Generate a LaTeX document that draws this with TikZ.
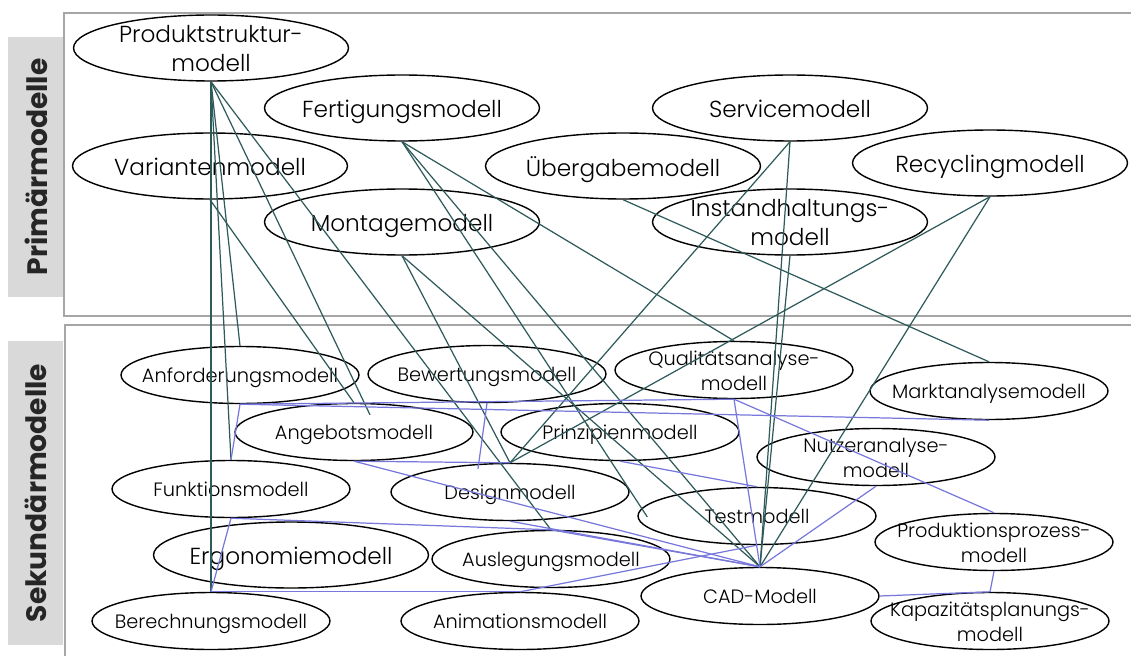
\documentclass[tikz,border=0pt]{standalone}
\usepackage{fontspec}
\IfFontExistsTF{Poppins Light}
  {\setmainfont{Poppins Light}[BoldFont={Poppins Bold}]}
  {\setmainfont{Poppins}}
\usepackage{xcolor}
\usepackage{tikz}
\usetikzlibrary{shapes,positioning,calc}

\definecolor{framegray}{HTML}{A6A6A6}
\definecolor{tagfill}{HTML}{D9D9D9}
\definecolor{primline}{HTML}{2F5A5A}
\definecolor{sekline}{HTML}{7878DC}

\newcommand{\primfont}{\fontsize{13.2}{17}\selectfont}
\newcommand{\sekfont}{\fontsize{11}{14.2}\selectfont}

\tikzset{
  primmodel/.style={draw, ellipse, line width=0.8pt, inner sep=0pt,
    minimum width=5.5cm, minimum height=1.32cm,
    label={[align=center, text depth=0.25em, yshift=-1.5pt, font=\primfont]center:#1}},
  sekmodel/.style={draw, ellipse, line width=0.8pt, inner sep=0pt,
    minimum width=4.76cm, minimum height=1.14cm,
    label={[align=center, text depth=0.25em, yshift=-1.5pt, font=\sekfont]center:#1}},
  tag/.style={fill=tagfill, rotate=90, inner sep=0pt, text=black!85,
    font=\bfseries\fontsize{16}{19}\selectfont},
  primlink/.style={draw=primline, line width=0.7pt},
  seklink/.style={draw=sekline, line width=0.7pt}
}

\begin{document}
\begin{tikzpicture}[x=0.02cm, y=-0.02cm]
    \useasboundingbox (0,0) rectangle (1131,655);

    % Group tags and frames
    \node[tag, minimum width=5.2cm, minimum height=1.12cm] (primtag) at (36,167) {Primärmodelle};
    \node[tag, minimum width=6.08cm, minimum height=1.1cm] (sektag) at (35.5,493) {Sekundärmodelle};
    \draw[framegray, line width=1.6pt] (64,13) rectangle (1150,316);
    \draw[framegray, line width=1.6pt] (65,325) rectangle (1150,680);

    % Primary models
    \node[primmodel={Produktstruktur-\\modell}] (prod) at (211,48) {};
    \node[primmodel={Fertigungsmodell}] (fert) at (402,108) {};
    \node[primmodel={Variantenmodell}] (var) at (210,166) {};
    \node[primmodel={Montagemodell}] (mont) at (402,222) {};
    \node[primmodel={Servicemodell}] (serv) at (790,108) {};
    \node[primmodel={Übergabemodell}] (ueber) at (623,166) {};
    \node[primmodel={Recyclingmodell}] (recyc) at (990,163) {};
    \node[primmodel={Instandhaltungs-\\modell}] (inst) at (790,222) {};

    % Secondary models
    \node[sekmodel={Anforderungsmodell}] (anf) at (240,375) {};
    \node[sekmodel={Bewertungsmodell}] (bew) at (487,374) {};
    \node[sekmodel={Qualitätsanalyse-\\modell}] (qual) at (734,370) {};
    \node[sekmodel={Marktanalysemodell}] (markt) at (989,391) {};
    \node[sekmodel={Angebotsmodell}] (angeb) at (354,432) {};
    \node[sekmodel={Prinzipienmodell}] (prinz) at (620,432) {};
    \node[sekmodel={Nutzeranalyse-\\modell}] (nutzer) at (876,457) {};
    \node[sekmodel={Funktionsmodell}] (funk) at (231,489) {};
    \node[sekmodel={Designmodell}] (design) at (510,492) {};
    \node[sekmodel={Testmodell}] (test) at (757,516) {};
    \node[sekmodel={Produktionsprozess-\\modell}] (prozess) at (994,542) {};
    \node[primmodel={Ergonomiemodell}] (ergo) at (291,555) {};
    \node[sekmodel={Auslegungsmodell}] (ausl) at (551,559) {};
    \node[sekmodel={CAD-Modell}] (cad) at (760,596) {};
    \node[sekmodel={Kapazitätsplanungs-\\modell}] (kapaz) at (990,621) {};
    \node[sekmodel={Berechnungsmodell}] (berech) at (211,621) {};
    \node[sekmodel={Animationsmodell}] (anim) at (520,621) {};

    % Primary -> secondary
    \draw[primlink] (prod.south) -- (berech.north);
    \draw[primlink] (prod.south) -- (funk.north);
    \draw[primlink] (prod.south) -- (anf.north);
    \draw[primlink] (prod.south) -- ($(angeb.north)+(16,12)$);
    \draw[primlink] (prod.south) -- (ausl.north);
    \draw[primlink] (var.south) -- (angeb.north);
    \draw[primlink] (fert.south) -- ($(test.west)+(10,1)$);
    \draw[primlink] (fert.south) -- (cad.north);
    \draw[primlink] (fert.south) -- (qual.north);
    \draw[primlink] (mont.south) -- (design.north);
    \draw[primlink] (mont.south) -- (cad.north);
    \draw[primlink] (serv.south) -- (design.north);
    \draw[primlink] (serv.south) -- (cad.north);
    \draw[primlink] (inst.south) -- (cad.north);
    \draw[primlink] (recyc.south) -- (design.north);
    \draw[primlink] (recyc.south) -- (cad.north);
    \draw[primlink] (ueber.south) -- (markt.north);

    % Secondary <-> secondary
    \draw[seklink] (anf.south) -- (funk.north);
    \draw[seklink] (anf.south) -- (qual.south);
    \draw[seklink] (anf.south) -- (markt.south);
    \draw[seklink] (bew.south) -- ($(design.north)+(-32,6)$);
    \draw[seklink] (angeb.south) -- (design.north);
    \draw[seklink] (angeb.south) -- (cad.north);
    \draw[seklink] (prinz.south) -- (test.north);
    \draw[seklink] (funk.south) -- (berech.north);
    \draw[seklink] (funk.south) -- (ausl.north);
    \draw[seklink] (ausl.north) -- (cad.north);
    \draw[seklink] (design.south) -- (cad.north);
    \draw[seklink] (berech.north) -- (anim.north);
    \draw[seklink] (anim.north) -- (test.south);
    \draw[seklink] (qual.south) -- (cad.north);
    \draw[seklink] (qual.south) -- (prozess.north);
    \draw[seklink] (nutzer.south) -- (cad.north);
    \draw[seklink] (cad.east) -- (kapaz.north);
    \draw[seklink] (kapaz.north) -- (prozess.south);

\end{tikzpicture}
\end{document}
